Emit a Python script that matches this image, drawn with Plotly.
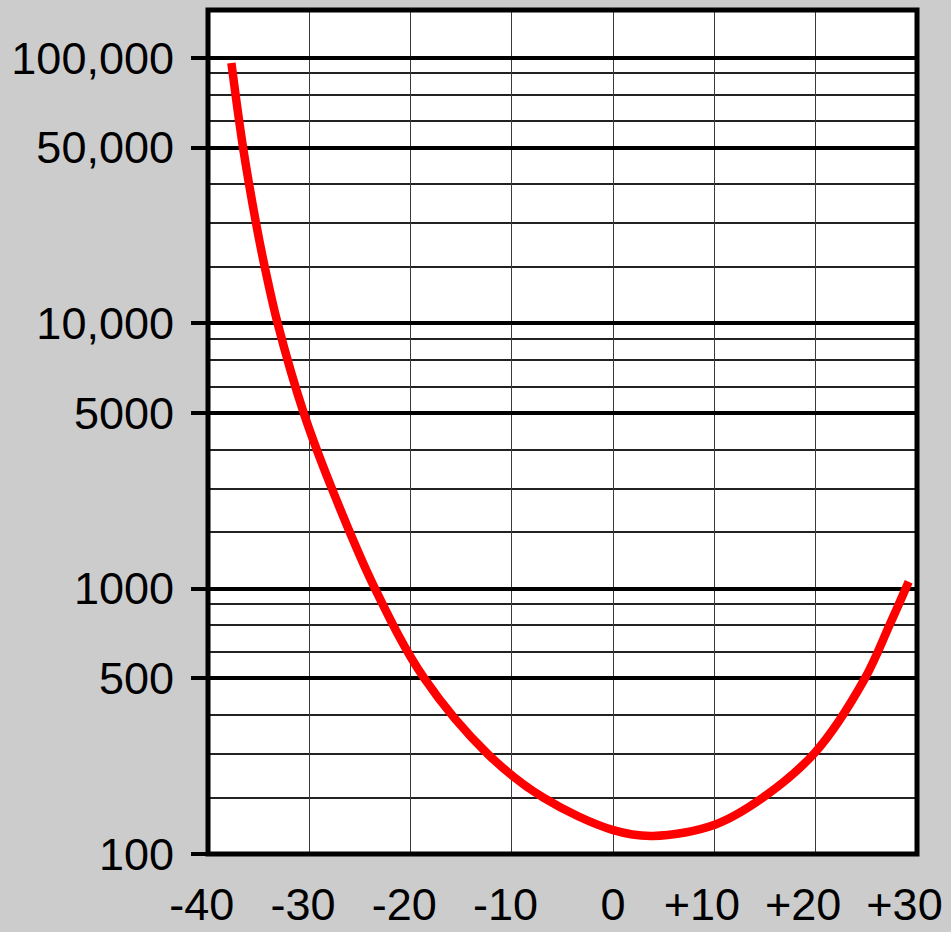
import plotly.graph_objects as go

# Curve (x in units, y on log scale)
x_vals = [-37.69, -36.54, -35.26, -34.41, -33.13, -30.56, -27.76, -23.49, -18.66,
          -12.32, -6.89, 0.01, 3.92, 10.03, 14.77, 20.0, 24.83, 27.30, 29.18]
y_vals = [95800, 46000, 23900, 16390, 10020, 4610, 2380, 996, 460,
          237, 163, 123, 117, 129, 163, 243, 457, 731, 1062]

# X axis ticks
x_ticks = [-40, -30, -20, -10, 0, 10, 20, 30]
x_labels = ["-40", "-30", "-20", "-10", "0", "+10", "+20", "+30"]

# Y axis major gridlines (positions as drawn in the picture) and labels
y_ticks = [100, 460, 1000, 4600, 10000, 46000, 100000]
y_labels = ["100", "500", "1000", "5000", "10,000", "50,000", "100,000"]

# Minor gridline multipliers within each decade, as drawn
minor_mult = [1.63, 2.38, 3.34, 5.77, 7.28, 8.75]
decades = [100, 1000, 10000]

minor_vals = [d * m for d in decades for m in minor_mult]

# pad labels so that digits (not signs) are centred on the gridline
NB = "\u00a0"
x_text = []
for lab in x_labels:
    if lab.startswith("-"):
        x_text.append(lab + NB)
    elif lab.startswith("+"):
        x_text.append(lab + NB + NB)
    else:
        x_text.append(lab)

FONT = "Liberation Sans, Arial, sans-serif"
FSIZE = 45

fig = go.Figure()
fig.add_trace(go.Scatter(
    x=x_vals, y=y_vals, mode="lines",
    line=dict(color="#ff0000", width=8.5, shape="spline", smoothing=1.0),
    hoverinfo="skip", showlegend=False,
))

fig.update_layout(
    width=951, height=932,
    paper_bgcolor="#cccccc",
    plot_bgcolor="#ffffff",
    margin=dict(l=207.6, r=33.6, t=10.3, b=77.8, pad=0, autoexpand=False),
    font=dict(family=FONT, size=FSIZE, color="#000000"),
    showlegend=False,
)

fig.update_xaxes(
    range=[-40, 30], automargin=False,
    tickmode="array", tickvals=x_ticks, ticktext=x_text, tickangle=0,
    showgrid=True, gridcolor="#3a3a3a", gridwidth=1.4,
    zeroline=False, showline=False,
    ticks="", ticklabelstandoff=20, ticklabeloverflow="allow",
    tickfont=dict(family=FONT, size=FSIZE, color="#000000"),
)

fig.update_yaxes(
    type="log", range=[2, 5.181], automargin=False,
    tickmode="array", tickvals=y_ticks, ticktext=y_labels,
    showgrid=True, gridcolor="#000000", gridwidth=4,
    zeroline=False, showline=False,
    ticks="outside", ticklen=16, tickwidth=4, tickcolor="#000000",
    ticklabelstandoff=8, ticklabeloverflow="allow",
    tickfont=dict(family=FONT, size=FSIZE, color="#000000"),
    minor=dict(tickmode="array", tickvals=minor_vals, showgrid=True,
               gridcolor="#222222", gridwidth=1.5, ticks=""),
)

fig.add_shape(type="rect", xref="paper", yref="paper", x0=0, x1=1, y0=0, y1=1,
              line=dict(color="#000000", width=5), fillcolor="rgba(0,0,0,0)",
              layer="above")

fig.write_html(
    "out.html",
    config={"displayModeBar": False},
    post_script="document.body.style.margin='0px';document.body.style.padding='0px';",
)
